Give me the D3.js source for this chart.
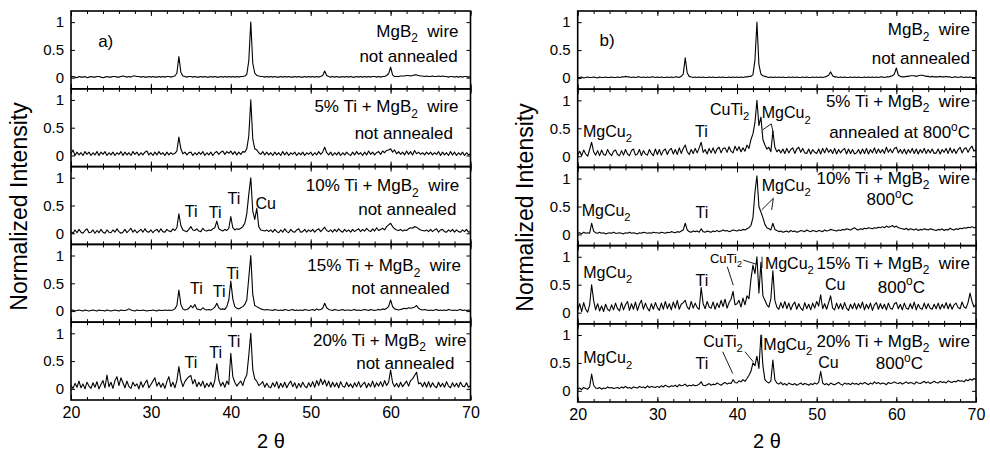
<!DOCTYPE html>
<html><head><meta charset="utf-8">
<script src="https://cdn.jsdelivr.net/npm/d3@7"></script>
<style>
body{margin:0;background:#fff;}
svg{display:block;font-family:Arial,"Liberation Sans",sans-serif;}
text{white-space:pre;}
</style></head><body>
<svg id="chart" width="990" height="457"></svg>
<script>
// ---------------- DATA ----------------
// sampled diffraction angles (2θ, degrees), 0.25° steps
const twoTheta = d3.range(201).map(i => 20 + i * 0.25);
const xTicks = [20, 30, 40, 50, 60, 70];
const yTicks = [0, 0.5, 1];
const yTickLabels = ["0", "0.5", "1"];

// normalized intensity in percent, one value per 2θ sample (20 .. 70)
const a_pure = [
1,2,1,0,2,1,1,2,0,1,2,1,1,2,2,1,0,1,2,1,
1,2,2,1,1,2,3,2,1,2,1,3,3,2,2,1,2,1,1,2,
1,2,1,1,2,1,2,1,2,2,1,2,3,8,38,10,3,2,1,2,
2,1,2,1,1,2,1,2,1,1,2,1,2,1,1,2,1,2,1,2,
1,2,1,2,1,2,2,3,6,30,100,26,8,4,3,2,2,1,2,1,
2,1,2,1,1,2,1,2,1,2,1,1,2,1,2,1,1,2,1,2,
1,2,1,2,1,2,4,12,4,2,1,2,1,2,1,1,2,1,2,1,
2,1,1,2,1,2,1,2,1,2,1,2,2,1,2,1,2,2,4,7,
19,5,2,2,2,3,3,3,4,4,3,4,5,5,4,3,3,2,3,2,
2,3,2,2,3,2,3,2,2,1,2,2,1,2,1,2,1,2,2,1,
2];
const a_ti5 = [
3,10,0,6,1,5,0,7,2,6,0,5,1,7,0,6,2,7,0,5,
1,6,0,5,2,7,0,6,1,5,0,7,2,6,0,5,1,6,8,1,
5,0,6,1,7,2,5,0,6,1,5,2,4,8,33,12,3,6,1,5,
6,0,5,1,6,2,7,0,5,1,6,0,5,7,2,6,8,2,7,4,
8,2,7,1,6,2,7,6,12,35,100,30,12,10,5,2,7,1,6,1,
5,0,6,1,5,0,7,1,6,0,5,2,6,0,5,1,6,0,5,2,
6,0,5,1,7,2,6,15,5,1,6,0,5,1,6,0,5,1,6,2,
0,6,1,7,2,5,0,6,1,8,2,6,1,5,7,2,8,5,9,10,
12,6,10,3,7,2,6,1,8,2,7,1,9,3,6,2,5,1,6,2,
6,1,5,2,7,0,6,1,5,0,7,1,6,0,5,1,6,0,5,1,
3];
const a_ti10 = [
3,0,6,1,7,2,0,5,8,1,2,6,0,5,1,7,2,0,6,2,
1,6,2,8,3,0,2,7,1,5,9,2,6,1,4,7,2,8,3,2,
6,1,5,7,2,8,3,2,7,4,3,8,5,10,35,14,6,4,3,7,
12,6,5,8,4,3,9,5,4,6,5,8,10,22,8,6,4,7,5,9,
30,10,6,8,7,9,12,18,35,70,100,40,25,45,12,6,5,4,6,3,
6,2,7,3,1,6,2,8,3,1,7,3,2,6,8,2,3,7,2,6,
3,7,2,6,8,3,7,11,5,3,6,2,7,3,8,4,2,7,3,6,
2,7,3,6,8,3,7,4,9,5,3,8,4,10,5,7,9,6,12,15,
18,12,8,6,5,7,4,6,5,8,10,9,12,11,8,6,5,4,6,3,
7,3,6,8,2,6,7,3,2,6,3,7,2,6,3,2,6,3,7,2,
3];
const a_ti15 = [
1,2,0,1,2,1,0,2,1,0,1,2,1,0,2,1,1,0,2,1,
0,1,2,1,0,2,1,1,2,4,2,1,0,2,1,1,2,1,0,1,
1,2,1,0,2,1,1,2,1,2,1,2,4,10,38,12,4,2,3,5,
10,6,12,4,3,2,6,3,2,3,2,4,7,14,6,3,4,3,8,20,
54,22,8,5,4,6,8,12,20,60,100,30,10,8,6,4,3,2,3,2,
2,1,3,2,1,2,1,3,2,1,2,3,1,2,1,2,1,3,2,1,
2,3,1,4,2,3,5,14,6,3,2,1,3,2,1,2,3,1,2,2,
1,2,3,1,2,1,2,3,2,1,3,2,1,2,3,2,4,3,5,8,
20,8,4,3,2,3,4,5,4,6,5,6,7,10,5,3,2,3,2,1,
2,1,2,3,1,2,1,2,1,3,2,1,2,1,2,3,1,2,1,2,
1];
const a_ti20 = [
6,1,10,3,14,2,9,0,12,5,1,11,3,13,0,8,15,2,25,4,
12,1,15,22,6,20,11,2,14,4,1,12,5,9,0,13,3,10,16,2,
8,14,20,5,12,3,10,1,13,22,4,12,2,15,40,16,4,13,18,22,
24,9,17,4,12,5,14,2,10,4,12,3,15,45,16,5,12,3,14,8,
64,22,12,5,10,14,6,18,25,60,100,35,18,14,6,9,13,3,10,4,
2,11,4,13,1,10,3,12,2,9,14,4,11,1,10,3,12,5,2,11,
4,13,3,15,6,18,8,16,5,14,3,12,4,11,2,13,5,3,12,4,
9,2,11,4,13,3,8,12,2,10,4,14,3,11,5,13,4,15,6,12,
34,11,4,10,3,12,4,9,14,5,15,18,24,30,9,11,4,12,3,13,
3,11,5,2,12,4,10,3,13,5,2,11,4,10,3,12,5,4,11,3,
6];
const b_pure = [
1,1,2,0,1,2,1,1,2,1,0,2,1,1,2,1,1,2,1,1,
2,1,2,2,3,2,2,1,2,1,2,2,1,2,1,2,1,2,2,1,
2,1,2,1,1,2,1,2,1,2,2,1,3,7,36,9,3,2,1,2,
1,2,1,2,1,1,2,1,2,1,1,2,1,2,1,1,2,1,2,1,
2,1,2,1,2,2,3,3,6,32,100,24,7,4,3,2,1,2,1,2,
1,2,1,2,1,1,2,1,2,1,2,1,1,2,1,2,1,1,2,1,
2,1,2,1,2,3,5,11,4,2,2,1,2,1,2,1,1,2,1,2,
1,2,1,1,2,1,2,1,2,1,2,1,2,2,1,2,2,3,4,7,
18,5,3,2,2,3,3,4,4,4,3,4,5,5,4,3,3,2,3,2,
2,2,3,2,2,3,2,2,1,2,2,1,2,2,1,2,1,2,1,1,
1];
const b_ti5 = [
2,9,1,11,4,0,12,25,8,2,10,1,11,3,2,12,5,1,9,11,
3,1,10,2,12,4,1,10,13,2,4,12,1,10,4,2,12,5,1,13,
3,12,2,10,13,3,11,14,4,12,3,15,5,14,20,8,3,12,5,14,
6,15,25,7,12,4,14,6,15,5,13,16,6,14,15,7,17,9,6,18,
10,17,8,15,9,20,14,30,40,60,100,55,70,30,20,13,16,8,45,16,
8,12,6,13,5,14,6,12,15,5,13,16,7,14,6,5,13,4,12,7,
5,13,4,14,6,15,7,12,5,14,4,12,6,11,14,4,13,5,12,4,
6,12,4,13,5,14,4,12,6,15,5,13,6,12,5,16,7,13,6,14,
16,6,12,5,13,4,12,6,14,5,13,4,12,6,14,5,12,6,13,5,
6,13,4,12,7,14,5,15,6,13,5,12,16,6,13,15,7,14,18,9,
12];
const b_ti10 = [
2,3,1,4,2,3,2,20,6,3,2,4,2,3,1,2,3,2,4,2,
2,3,2,1,3,2,4,2,3,2,1,3,2,4,3,2,3,2,4,3,
3,2,4,3,2,4,3,5,4,3,5,4,6,8,20,8,5,4,6,5,
6,4,10,5,4,6,5,4,6,5,7,5,6,8,6,7,5,6,8,7,
6,8,7,9,8,10,12,16,30,75,105,50,40,30,18,12,10,8,20,9,
7,5,6,4,5,6,4,7,5,6,4,5,7,6,5,8,6,5,7,6,
5,7,6,5,8,6,7,9,8,7,6,8,7,9,8,10,9,8,10,12,
9,8,10,9,11,10,12,11,10,12,11,13,12,14,12,15,13,14,16,13,
15,12,11,10,9,11,8,10,9,8,10,7,9,8,10,9,8,10,9,8,
7,9,8,10,7,9,8,11,9,8,10,9,11,10,12,11,13,12,14,12,
13];
const b_ti15 = [
4,16,2,18,6,1,14,50,22,5,16,3,12,2,15,6,3,14,5,17,
7,3,18,5,14,20,4,16,6,19,4,15,22,6,17,8,3,16,6,18,
9,4,17,6,20,7,16,5,19,8,22,6,15,18,22,10,6,20,8,17,
9,6,45,16,7,20,10,8,19,6,17,9,22,11,24,8,18,24,38,14,
16,22,10,26,14,30,25,60,85,70,100,35,90,30,22,14,10,25,75,22,
10,6,18,8,20,7,17,5,14,19,6,16,8,4,18,7,15,5,17,8,
20,12,32,7,16,6,18,30,8,5,17,7,16,6,18,8,4,15,7,17,
6,16,8,19,5,15,7,17,4,14,18,6,16,7,15,5,17,8,6,16,
18,7,15,5,17,8,6,16,7,19,5,15,8,6,17,7,16,8,6,15,
7,17,6,15,8,18,7,16,6,14,17,9,7,19,10,8,18,35,20,10,
15];
const b_ti20 = [
3,5,2,6,4,3,7,30,10,5,4,6,3,5,4,7,5,6,4,5,
6,4,7,5,8,5,6,4,7,6,5,8,6,7,5,9,6,8,7,6,
8,6,9,7,10,8,7,9,8,10,7,11,9,10,12,8,10,9,11,9,
10,12,16,10,9,11,13,10,12,11,14,12,10,13,15,12,14,13,20,15,
14,18,16,20,17,22,28,35,50,45,62,40,100,45,20,16,14,18,55,20,
14,12,15,11,13,10,14,12,11,13,10,12,14,11,13,12,10,13,11,14,
12,15,35,14,11,13,10,14,12,11,13,15,12,10,14,12,13,11,14,12,
13,11,14,12,15,13,11,14,12,16,13,15,12,14,13,11,15,13,14,16,
14,13,15,12,14,16,13,15,14,12,16,14,13,15,17,14,16,13,15,17,
15,14,17,15,16,14,18,16,15,17,16,19,17,18,16,20,18,21,19,22,
20];

// sample captions ("_x" = subscript, "^x" = superscript)
const captionsA = [
  ["MgB_2  wire", "not annealed"],
  ["5% Ti + MgB_2  wire", "not annealed "],
  ["10% Ti + MgB_2  wire", "not annealed"],
  ["15% Ti + MgB_2  wire", "not annealed"],
  ["20% Ti + MgB_2  wire", "not annealed"]
];
const captionsB = [
  ["MgB_2  wire", "not annealed"],
  ["5% Ti + MgB_2  wire", "annealed at 800^oC"],
  ["10% Ti + MgB_2  wire", "800^oC"],
  ["15% Ti + MgB_2  wire", "800^oC"],
  ["20% Ti + MgB_2  wire", "800^oC"]
];
const panelTags = ["a)", "b)"];
const axisTitleY = "Normalized Intensity";
const axisTitleX = "2 \u03b8";

// ---------------- LAYOUT ----------------
// caption anchors [2θ, intensity] (text-anchor end)
const captionPosA = [
  [[68.5, 0.74], [68.4, 0.29]],
  [[68.5, 0.78], [68.4, 0.30]],
  [[68.6, 0.76], [68.25, 0.33]],
  [[68.8, 0.72], [67.4, 0.31]],
  [[69.5, 0.78], [68.0, 0.36]]
];
const captionPosB = [
  [[69.25, 0.77], [69.25, 0.25]],
  [[69.25, 0.89], [69.25, 0.32]],
  [[69.25, 0.91], [62.2, 0.52]],
  [[69.25, 0.79], [63.6, 0.36]],
  [[69.25, 0.79], [63.35, 0.39]]
];
// phase markers: panel, row, text, start 2θ, intensity, font size
const phaseLabels = [
  [0, 2, "Ti", 34.25, 0.29, 16], [0, 2, "Ti", 37.25, 0.27, 16], [0, 2, "Ti", 39.6, 0.52, 16], [0, 2, "Cu", 43.1, 0.43, 16],
  [0, 3, "Ti", 34.9, 0.30, 16], [0, 3, "Ti", 37.75, 0.26, 16], [0, 3, "Ti", 39.45, 0.585, 16],
  [0, 4, "Ti", 34.2, 0.37, 16], [0, 4, "Ti", 37.3, 0.55, 16], [0, 4, "Ti", 39.6, 0.75, 16],
  [1, 1, "MgCu_2", 20.67, 0.35, 16], [1, 1, "Ti", 34.73, 0.35, 16], [1, 1, "CuTi_2", 36.6, 0.74, 16], [1, 1, "MgCu_2", 43.1, 0.68, 16],
  [1, 2, "MgCu_2", 20.5, 0.33, 16], [1, 2, "Ti", 34.8, 0.30, 16], [1, 2, "MgCu_2", 43.1, 0.78, 16],
  [1, 3, "MgCu_2", 20.7, 0.62, 16], [1, 3, "Ti", 34.8, 0.477, 16], [1, 3, "CuTi_2", 36.6, 0.89, 13], [1, 3, "MgCu_2", 43.5, 0.79, 16], [1, 3, "Cu", 51.05, 0.405, 16],
  [1, 4, "MgCu_2", 20.7, 0.49, 16], [1, 4, "Ti", 34.8, 0.39, 16], [1, 4, "CuTi_2", 35.77, 0.79, 16], [1, 4, "MgCu_2", 43.3, 0.73, 16], [1, 4, "Cu", 50.2, 0.40, 16]
];
// leader lines: panel, row, 2θ1, I1, 2θ2, I2
const leaders = [
  [1, 1, 44.3, 0.58, 43.2, 0.47], [1, 1, 44.3, 0.58, 44.55, 0.42],
  [1, 2, 44.56, 0.647, 43.1, 0.44], [1, 2, 44.56, 0.647, 44.35, 0.44],
  [1, 3, 40.79, 0.94, 42.35, 0.87], [1, 3, 38.78, 0.82, 39.53, 0.49], [1, 3, 43.14, 1.0, 43.14, 0.80],
  [1, 4, 38.2, 0.70, 39.46, 0.31], [1, 4, 41.0, 0.70, 42.04, 0.52], [1, 4, 43.1, 1.0, 43.1, 0.79]
];

const panels = [
  {left: 71, right: 470.5, top: 11, bottom: 400, series: [a_pure, a_ti5, a_ti10, a_ti15, a_ti20],
   captions: captionsA, capPos: captionPosA, tagAt: [23.4, 0.55], yTitleX: 27, xTitleX: 271},
  {left: 577.7, right: 976, top: 11, bottom: 402, series: [b_pure, b_ti5, b_ti10, b_ti15, b_ti20],
   captions: captionsB, capPos: captionPosB, tagAt: [22.75, 0.58], yTitleX: 533, xTitleX: 767}
];

const svg = d3.select("#chart");

function rich(textSel, str, fs) {
  const parts = [];
  let buf = "";
  for (let i = 0; i < str.length; i++) {
    const c = str[i];
    if (c === "_" || c === "^") {
      if (buf) parts.push({t: buf, m: 0});
      buf = "";
      parts.push({t: str[i + 1], m: c === "_" ? 1 : -1});
      i++;
    } else buf += c;
  }
  if (buf) parts.push({t: buf, m: 0});
  let cur = 0;
  parts.forEach(p => {
    const target = p.m === 1 ? fs * 0.34 : p.m === -1 ? -fs * 0.42 : 0;
    const ts = textSel.append("tspan").text(p.t).attr("dy", target - cur);
    if (p.m) ts.attr("font-size", fs * 0.7);
    cur = target;
  });
}

const minorTicks = d3.range(20, 70.001, 2);

panels.forEach((p, pi) => {
  const x = d3.scaleLinear().domain([20, 70]).range([p.left, p.right]);
  const h = (p.bottom - p.top) / p.series.length;
  const g = svg.append("g");
  const yScales = [];

  p.series.forEach((vals, k) => {
    const y0 = p.top + k * h;
    const y = d3.scaleLinear().domain([-0.2, 1.2]).range([y0 + h, y0]);
    yScales.push(y);
    const pts = vals.map((v, i) => [twoTheta[i], v / 100]);

    g.append("path").datum(pts)
      .attr("d", d3.line().x(d => x(d[0])).y(d => y(d[1])))
      .attr("fill", "none").attr("stroke", "#000")
      .attr("stroke-width", 1.1).attr("stroke-linejoin", "round");

    const tickStyle = sel => { sel.select(".domain").remove(); sel.selectAll("line").attr("stroke", "#000").attr("stroke-width", 1); };
    g.append("g").attr("transform", `translate(0,${y0})`)
      .call(d3.axisBottom(x).tickValues(minorTicks).tickSize(3).tickFormat(""))
      .call(tickStyle);
    g.append("g").attr("transform", `translate(0,${y0})`)
      .call(d3.axisBottom(x).tickValues(xTicks).tickSize(5).tickFormat(""))
      .call(tickStyle);
    g.append("g").attr("transform", `translate(0,${y0 + h})`)
      .call(d3.axisTop(x).tickValues(minorTicks).tickSize(3).tickFormat(""))
      .call(tickStyle);
    const isLast = k === p.series.length - 1;
    const bAx = g.append("g").attr("transform", `translate(0,${y0 + h})`)
      .call(d3.axisBottom(x).tickValues(xTicks).tickSizeInner(-5).tickSizeOuter(0).tickPadding(7)
        .tickFormat(isLast ? d3.format("d") : ""));
    bAx.call(tickStyle);
    bAx.selectAll("text").attr("font-size", 16).attr("font-family", "Arial, 'Liberation Sans', sans-serif").attr("fill", "#000");

    const lAx = g.append("g").attr("transform", `translate(${p.left},0)`)
      .call(d3.axisLeft(y).tickValues(yTicks).tickSizeInner(-4).tickSizeOuter(0).tickPadding(7)
        .tickFormat((d, i) => yTickLabels[i]));
    lAx.call(tickStyle);
    lAx.selectAll("text").attr("font-size", 15).attr("font-family", "Arial, 'Liberation Sans', sans-serif").attr("fill", "#000");
    g.append("g").attr("transform", `translate(${p.right},0)`)
      .call(d3.axisRight(y).tickValues(yTicks).tickSizeInner(-4).tickSizeOuter(0).tickFormat(""))
      .call(tickStyle);

    g.append("rect").attr("x", p.left).attr("y", y0).attr("width", p.right - p.left).attr("height", h)
      .attr("fill", "none").attr("stroke", "#000").attr("stroke-width", 1.6);

    p.captions[k].forEach((line, li) => {
      const pos = p.capPos[k][li];
      const t = g.append("text").attr("x", x(pos[0])).attr("y", y(pos[1]))
        .attr("text-anchor", "end").attr("font-size", 17).attr("fill", "#000");
      rich(t, line, 17);
    });
  });

  phaseLabels.filter(d => d[0] === pi).forEach(d => {
    const y = yScales[d[1]];
    const t = g.append("text").attr("x", x(d[3])).attr("y", y(d[4]))
      .attr("font-size", d[5]).attr("fill", "#000");
    rich(t, d[2], d[5]);
  });
  leaders.filter(d => d[0] === pi).forEach(d => {
    const y = yScales[d[1]];
    g.append("line").attr("x1", x(d[2])).attr("y1", y(d[3])).attr("x2", x(d[4])).attr("y2", y(d[5]))
      .attr("stroke", "#000").attr("stroke-width", 0.9);
  });

  g.append("text").attr("x", x(p.tagAt[0])).attr("y", yScales[0](p.tagAt[1]))
    .attr("font-size", 17).attr("fill", "#000").text(panelTags[pi]);

  g.append("text").attr("transform", `translate(${p.yTitleX},${(p.top + p.bottom) / 2 + 1}) rotate(-90)`)
    .attr("text-anchor", "middle").attr("font-size", 23).attr("fill", "#000").text(axisTitleY);
  g.append("text").attr("x", p.xTitleX).attr("y", 448)
    .attr("text-anchor", "middle").attr("font-size", 20).attr("fill", "#000").text(axisTitleX);
});
</script>
</body></html>
